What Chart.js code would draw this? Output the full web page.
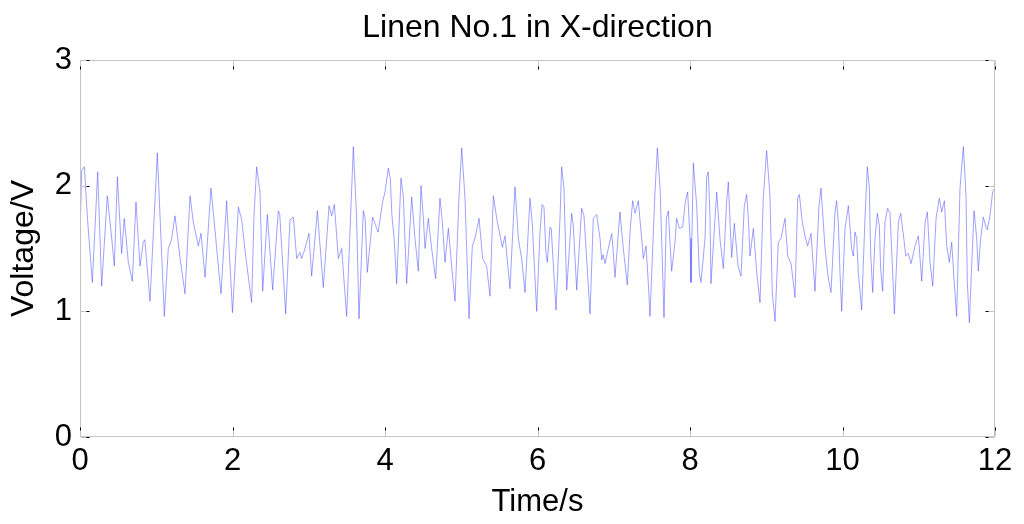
<!DOCTYPE html>
<html>
<head>
<meta charset="utf-8">
<script src="https://cdn.jsdelivr.net/npm/chart.js@4/dist/chart.umd.min.js"></script>
<style>
  html, body { margin: 0; padding: 0; background: #ffffff; }
  #c { display: block; }
</style>
</head>
<body>
<canvas id="c" width="1024" height="524"></canvas>
<script>
const chartTitle = "Linen No.1 in X-direction";
const xAxisTitle = "Time/s";
const yAxisTitle = "Voltage/V";
const xTicks = [0, 2, 4, 6, 8, 10, 12];
const yTicks = [0, 1, 2, 3];

// Time (s) of each reading
const times = [
  0.000, 0.022, 0.057, 0.100, 0.162, 0.232, 0.284, 0.358, 0.416, 0.450,
  0.490, 0.546, 0.580, 0.634, 0.686, 0.734, 0.787, 0.830, 0.850, 0.918,
  1.014, 1.106, 1.158, 1.200, 1.246, 1.311, 1.377, 1.443, 1.486, 1.552,
  1.587, 1.640, 1.718, 1.849, 1.923, 2.000,
  2.077, 2.120, 2.177, 2.251, 2.282, 2.317, 2.360, 2.396, 2.457, 2.527,
  2.601, 2.620, 2.697, 2.754, 2.798, 2.842, 2.885, 2.907, 2.951, 3.003,
  3.038, 3.113, 3.191, 3.266, 3.301, 3.336, 3.388, 3.432, 3.497, 3.585,
  3.628, 3.659, 3.716, 3.740, 3.768, 3.838, 3.891, 3.910, 3.969, 4.000,
  4.044, 4.070, 4.090, 4.120, 4.153, 4.210, 4.240, 4.284, 4.350, 4.393,
  4.437, 4.472, 4.503, 4.525, 4.568, 4.612, 4.664, 4.721, 4.752, 4.787,
  4.831, 4.874, 4.918, 4.970, 5.006, 5.049, 5.102, 5.145, 5.180, 5.233,
  5.281, 5.333, 5.377, 5.421, 5.465, 5.539, 5.574, 5.639, 5.705, 5.749,
  5.792, 5.836, 5.902, 5.930, 5.989, 6.033, 6.060,
  6.085, 6.110, 6.129, 6.164, 6.180, 6.243, 6.295, 6.317, 6.347, 6.383,
  6.448, 6.470, 6.514, 6.579, 6.610, 6.689, 6.732, 6.776, 6.820, 6.842,
  6.860, 6.885, 6.929, 6.973, 6.990, 7.016, 7.082, 7.125, 7.178, 7.213,
  7.248, 7.279, 7.322, 7.366, 7.388, 7.423, 7.450, 7.475, 7.541, 7.572,
  7.610, 7.659, 7.690, 7.716, 7.740, 7.760, 7.803, 7.825, 7.860, 7.904,
  7.940, 7.969, 8.000, 8.013, 8.044, 8.088, 8.123,
  8.144, 8.197, 8.219, 8.240, 8.262, 8.275, 8.328, 8.350, 8.393, 8.437,
  8.481, 8.503, 8.525, 8.547, 8.581, 8.610, 8.630, 8.669, 8.712, 8.743,
  8.765, 8.787, 8.831, 8.875, 8.918, 8.961, 9.005, 9.049, 9.079, 9.115,
  9.158, 9.193, 9.246, 9.281, 9.325, 9.355, 9.377, 9.412, 9.434, 9.473,
  9.508, 9.543, 9.587, 9.617, 9.639, 9.692, 9.718, 9.771, 9.814, 9.849,
  9.902, 9.923, 9.945, 9.967, 9.989, 10.033, 10.077, 10.120, 10.142,
  10.164, 10.186, 10.207, 10.251, 10.295, 10.326, 10.352, 10.369, 10.396, 10.426,
  10.457, 10.483, 10.500, 10.527, 10.557, 10.592, 10.623, 10.658, 10.680, 10.733,
  10.763, 10.800, 10.830, 10.864, 10.899, 10.951, 10.995, 11.017, 11.039, 11.083,
  11.113, 11.148, 11.183, 11.227, 11.270, 11.301, 11.336, 11.367, 11.401, 11.432,
  11.462, 11.497, 11.541, 11.585, 11.620, 11.637, 11.664, 11.694, 11.725, 11.760,
  11.781, 11.812, 11.847, 11.882, 11.899, 11.934, 11.969, 12.000
];

// Voltage (V) of each reading
const volts = [
  1.60, 2.12, 2.15, 1.72, 1.23, 2.11, 1.20, 1.92, 1.58, 1.36,
  2.07, 1.46, 1.74, 1.39, 1.24, 1.87, 1.36, 1.55, 1.57, 1.08,
  2.26, 0.96, 1.50, 1.57, 1.76, 1.43, 1.14, 1.92, 1.71, 1.52,
  1.62, 1.27, 1.98, 1.14, 1.88, 0.99,
  1.83, 1.73, 1.42, 1.07, 1.76, 2.15, 1.95, 1.16, 1.77, 1.17,
  1.80, 1.77, 0.98, 1.73, 1.75, 1.42, 1.47, 1.42, 1.50, 1.62,
  1.28, 1.80, 1.19, 1.84, 1.76, 1.85, 1.42, 1.50, 0.96, 2.31,
  1.74, 0.94, 1.80, 1.74, 1.31, 1.75, 1.66, 1.63, 1.87, 1.95,
  2.14, 2.05, 1.77, 1.58, 1.22, 2.06, 1.92, 1.22, 1.91, 1.58,
  1.32, 2.00, 1.74, 1.50, 1.74, 1.50, 1.26, 1.90, 1.71, 1.39,
  1.66, 1.36, 1.08, 1.90, 2.30, 1.90, 0.94, 1.52, 1.58, 1.74,
  1.42, 1.36, 1.12, 1.92, 1.74, 1.51, 1.60, 1.18, 1.99, 1.58,
  1.42, 1.15, 1.90, 1.71, 1.00, 1.63, 1.85,
  1.83, 1.47, 1.39, 1.67, 1.66, 1.01, 1.74, 2.15, 1.98, 1.17,
  1.78, 1.68, 1.17, 1.82, 1.76, 0.98, 1.74, 1.77, 1.58, 1.41,
  1.45, 1.38, 1.50, 1.62, 1.50, 1.27, 1.79, 1.50, 1.21, 1.63,
  1.88, 1.78, 1.88, 1.58, 1.42, 1.52, 1.26, 0.96, 1.95, 2.30,
  1.95, 0.95, 1.74, 1.80, 1.52, 1.32, 1.55, 1.74, 1.66, 1.67,
  1.88, 1.95, 1.58, 1.23, 2.18, 1.84, 1.30,
  1.23, 1.58, 2.07, 2.11, 1.76, 1.22, 1.74, 1.95, 1.58, 1.34,
  1.88, 2.03, 1.71, 1.43, 1.70, 1.50, 1.36, 1.28, 1.84, 1.93,
  1.74, 1.44, 1.66, 1.31, 1.07, 1.90, 2.28, 1.92, 1.15, 0.92,
  1.55, 1.58, 1.74, 1.44, 1.38, 1.23, 1.11, 1.90, 1.93, 1.71,
  1.60, 1.52, 1.62, 1.36, 1.16, 1.84, 1.98, 1.50, 1.26, 1.15,
  1.79, 1.88, 1.71, 1.31, 1.00, 1.66, 1.84, 1.50, 1.44,
  1.63, 1.58, 1.31, 1.01, 1.74, 2.15, 1.98, 1.47, 1.15, 1.58,
  1.78, 1.68, 1.34, 1.16, 1.71, 1.82, 1.78, 1.31, 0.98, 1.71,
  1.78, 1.60, 1.44, 1.46, 1.38, 1.52, 1.60, 1.42, 1.24, 1.71,
  1.79, 1.39, 1.20, 1.74, 1.90, 1.79, 1.88, 1.52, 1.39, 1.55,
  1.26, 0.96, 1.98, 2.31, 1.92, 1.23, 0.91, 1.36, 1.80, 1.58,
  1.32, 1.58, 1.75, 1.67, 1.65, 1.76, 1.95, 1.98
];

const points = times.map((t, i) => ({ x: t, y: volts[i] }));

const FONT = "'Liberation Sans', Arial, Helvetica, sans-serif";
const BOX = '#c4c4c4';

const titleAndBox = {
  id: 'titleAndBox',
  afterDraw(chart) {
    const { ctx, chartArea: a, scales } = chart;
    ctx.save();
    // title centred over the plot area
    ctx.fillStyle = '#000';
    ctx.font = '32px ' + FONT;
    ctx.textAlign = 'center';
    ctx.textBaseline = 'alphabetic';
    ctx.fillText(chartTitle, (a.left + a.right) / 2, 37);

    const L = Math.round(a.left) + 0.5, R = Math.round(a.right) - 0.5;
    const T = Math.round(a.top) + 0.5, B = Math.round(a.bottom) - 0.5;
    ctx.lineWidth = 1;
    ctx.strokeStyle = BOX;
    ctx.strokeRect(L, T, R - L, B - T);
    const len = 9;
    xTicks.forEach(v => {
      const px = Math.round(scales.x.getPixelForValue(v)) + 0.5;
      ctx.strokeStyle = BOX;
      ctx.beginPath();
      ctx.moveTo(px, T); ctx.lineTo(px, T + len);
      ctx.moveTo(px, B); ctx.lineTo(px, B - len);
      ctx.stroke();
      ctx.strokeStyle = '#000';
      ctx.beginPath();
      ctx.moveTo(px, T + len - 3); ctx.lineTo(px, T + len);
      ctx.moveTo(px, B - len + 3); ctx.lineTo(px, B - len);
      ctx.stroke();
    });
    yTicks.forEach(v => {
      const py = Math.round(scales.y.getPixelForValue(v)) + 0.5;
      ctx.strokeStyle = BOX;
      ctx.beginPath();
      ctx.moveTo(L, py); ctx.lineTo(L + len, py);
      ctx.moveTo(R, py); ctx.lineTo(R - len, py);
      ctx.stroke();
      ctx.strokeStyle = '#000';
      ctx.beginPath();
      ctx.moveTo(L + len - 3, py); ctx.lineTo(L + len, py);
      ctx.moveTo(R - len + 3, py); ctx.lineTo(R - len, py);
      ctx.stroke();
    });
    ctx.restore();
  }
};

new Chart(document.getElementById('c'), {
  type: 'line',
  data: {
    datasets: [{
      data: points,
      borderColor: 'rgba(70,70,255,0.85)',
      borderWidth: 0.6,
      pointRadius: 0,
      tension: 0,
      fill: false
    }]
  },
  options: {
    responsive: false,
    animation: false,
    devicePixelRatio: 1,
    layout: { padding: { top: 60, right: 29, left: 0, bottom: 0 } },
    plugins: {
      legend: { display: false },
      tooltip: { enabled: false },
      title: { display: false }
    },
    scales: {
      x: {
        type: 'linear',
        min: 0, max: 12,
        afterBuildTicks: s => { s.ticks = xTicks.map(v => ({ value: v })); },
        ticks: { color: '#000', font: { family: FONT, size: 31 }, padding: 6, maxRotation: 0, autoSkip: false },
        grid: { display: false, drawTicks: false },
        border: { display: false },
        title: { display: true, text: xAxisTitle, color: '#000', font: { family: FONT, size: 31 }, padding: { top: 0, bottom: 3 } },
        afterFit: s => { s.height = 87; }
      },
      y: {
        type: 'linear',
        min: 0, max: 3,
        afterBuildTicks: s => { s.ticks = yTicks.map(v => ({ value: v })); },
        ticks: { color: '#000', font: { family: FONT, size: 31 }, padding: 8 },
        grid: { display: false, drawTicks: false },
        border: { display: false },
        title: { display: true, text: yAxisTitle, color: '#000', font: { family: FONT, size: 32 }, padding: { top: 5, bottom: 0 } },
        afterFit: s => { s.width = 80; }
      }
    }
  },
  plugins: [titleAndBox]
});
</script>
</body>
</html>
